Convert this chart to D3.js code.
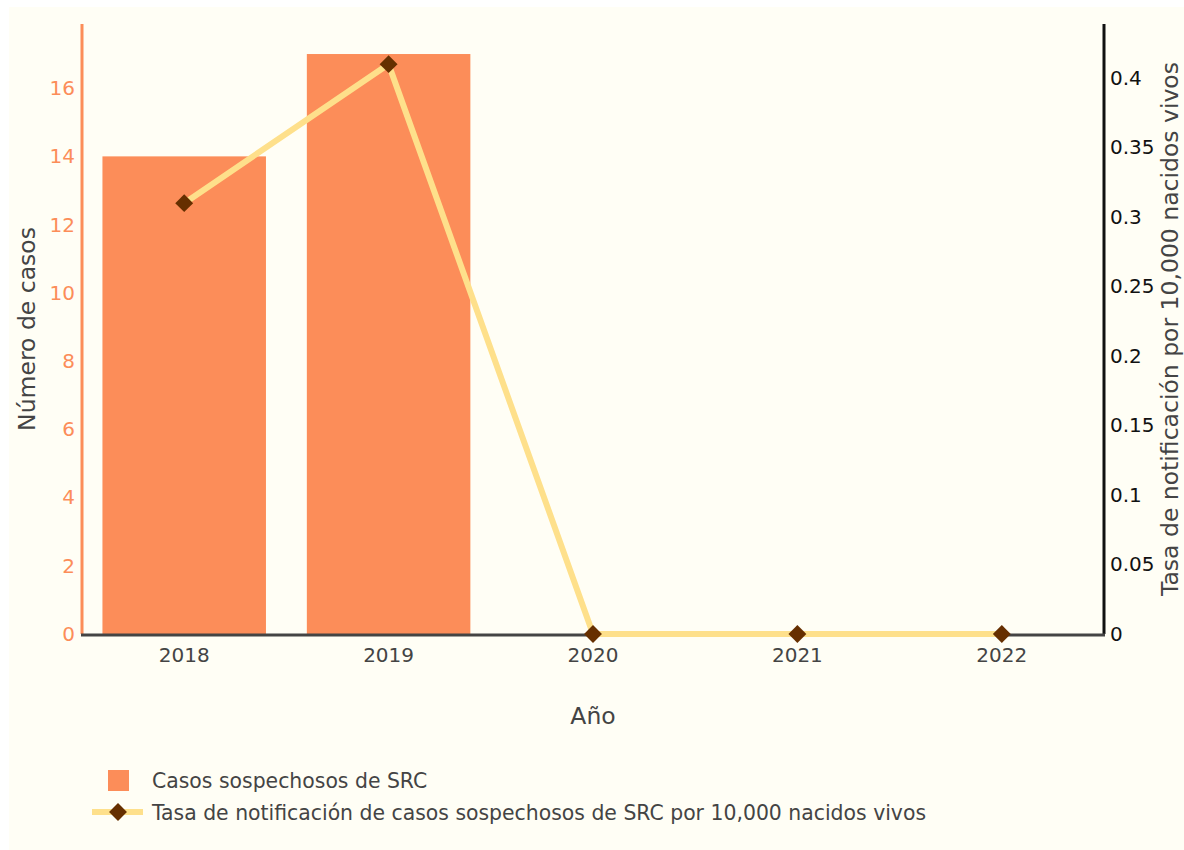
<!DOCTYPE html>
<html>
<head>
<meta charset="utf-8">
<script src="https://cdn.jsdelivr.net/npm/d3@7"></script>
<style>
  html, body { margin: 0; padding: 0; background: #ffffff; font-family: "DejaVu Sans", Verdana, sans-serif; }
  svg { display: block; }
  svg text { font-family: "DejaVu Sans", Verdana, sans-serif; }
</style>
</head>
<body>
<svg id="chart"></svg>
<script>
// Data
const years = ["2018", "2019", "2020", "2021", "2022"];
const casos = [14, 17, 0, 0, 0];
const tasa = [0.31, 0.41, 0, 0, 0];
const leftTicks = [0, 2, 4, 6, 8, 10, 12, 14, 16];
const rightTicks = [0, 0.05, 0.1, 0.15, 0.2, 0.25, 0.3, 0.35, 0.4];

const W = 1184, H = 850;
const margin = { top: 24, right: 80, bottom: 216, left: 82 };
const width = W - margin.left - margin.right;
const height = H - margin.top - margin.bottom;

const barColor = "#fc8d59";
const lineColor = "#fee08b";
const markerColor = "#662f00";
const textGrey = "#444444";
const font = "DejaVu Sans, Verdana, sans-serif";
const tickSize = "20px";
const legendSize = "20.4px";
const titleSize = "23.5px";

const svg = d3.select("#chart").attr("width", W).attr("height", H)
  .attr("font-family", font);

// Paper background
svg.append("rect")
  .attr("x", 9).attr("y", 7)
  .attr("width", W - 9).attr("height", H - 7)
  .attr("fill", "#fffef5");

const g = svg.append("g")
  .attr("transform", `translate(${margin.left},${margin.top})`);

// Scales
const x = d3.scaleBand()
  .domain(years)
  .range([0, width])
  .paddingInner(0.2)
  .paddingOuter(0.1);

const xc = (d) => x(d) + x.bandwidth() / 2;

const yLeft = d3.scaleLinear().domain([0, 17.88]).range([height, 0]);
const yRight = d3.scaleLinear().domain([0, 0.4389]).range([height, 0]);

// Bars
g.selectAll(".bar")
  .data(years)
  .enter()
  .append("rect")
  .attr("class", "bar")
  .attr("x", (d) => x(d))
  .attr("y", (d, i) => yLeft(casos[i]))
  .attr("width", x.bandwidth())
  .attr("height", (d, i) => height - yLeft(casos[i]))
  .attr("fill", barColor);

// Left axis
const leftAxis = g.append("g")
  .attr("class", "y-left")
  .call(d3.axisLeft(yLeft).tickValues(leftTicks).tickSize(0).tickPadding(7));
leftAxis.attr("font-family", font);
leftAxis.select(".domain").remove();
leftAxis.selectAll("text")
  .style("font-size", tickSize)
  .style("fill", barColor);
g.append("line")
  .attr("x1", 0).attr("x2", 0)
  .attr("y1", 0).attr("y2", height)
  .attr("stroke", barColor)
  .attr("stroke-width", 3);

// Right axis
const rightAxis = g.append("g")
  .attr("class", "y-right")
  .attr("transform", `translate(${width},0)`)
  .call(d3.axisRight(yRight).tickValues(rightTicks).tickSize(0).tickPadding(6)
    .tickFormat((d) => String(+d.toFixed(2))));
rightAxis.attr("font-family", font);
rightAxis.select(".domain").remove();
rightAxis.selectAll("text")
  .style("font-size", tickSize)
  .style("fill", "#111111");
g.append("line")
  .attr("x1", width).attr("x2", width)
  .attr("y1", 0).attr("y2", height)
  .attr("stroke", "#111111")
  .attr("stroke-width", 3);

// X axis
const xAxis = g.append("g")
  .attr("class", "x-axis")
  .attr("transform", `translate(0,${height})`)
  .call(d3.axisBottom(x).tickSize(0).tickPadding(14));
xAxis.attr("font-family", font);
xAxis.select(".domain").remove();
xAxis.selectAll("text")
  .style("font-size", tickSize)
  .style("fill", textGrey);
g.append("line")
  .attr("x1", -1).attr("x2", width + 1)
  .attr("y1", height + 1).attr("y2", height + 1)
  .attr("stroke", textGrey)
  .attr("stroke-width", 3);

// Line
const line = d3.line()
  .x((d, i) => xc(years[i]))
  .y((d) => yRight(d));

g.append("path")
  .datum(tasa)
  .attr("fill", "none")
  .attr("stroke", lineColor)
  .attr("stroke-width", 6)
  .attr("d", line);

const diamond = d3.symbol().type(d3.symbolSquare).size(160);
g.selectAll(".marker")
  .data(tasa)
  .enter()
  .append("path")
  .attr("class", "marker")
  .attr("d", diamond)
  .attr("transform", (d, i) => `translate(${xc(years[i])},${yRight(d)}) rotate(45)`)
  .attr("fill", markerColor);

// Axis titles
svg.append("text")
  .attr("transform", "translate(35,329) rotate(-90)")
  .attr("text-anchor", "middle")
  .style("font-size", titleSize)
  .style("fill", textGrey)
  .text("Número de casos");

svg.append("text")
  .attr("transform", "translate(1178,329) rotate(-90)")
  .attr("text-anchor", "middle")
  .style("font-size", titleSize)
  .style("fill", textGrey)
  .text("Tasa de notificación por 10,000 nacidos vivos");

svg.append("text")
  .attr("x", margin.left + width / 2)
  .attr("y", 724)
  .attr("text-anchor", "middle")
  .style("font-size", titleSize)
  .style("fill", textGrey)
  .text("Año");

// Legend
const legend = svg.append("g").attr("class", "legend");

legend.append("rect")
  .attr("x", 108).attr("y", 770)
  .attr("width", 21).attr("height", 21)
  .attr("fill", barColor);
legend.append("text")
  .attr("x", 152).attr("y", 788)
  .style("font-size", legendSize)
  .style("fill", textGrey)
  .text("Casos sospechosos de SRC");

legend.append("line")
  .attr("x1", 92).attr("x2", 143)
  .attr("y1", 812).attr("y2", 812)
  .attr("stroke", lineColor)
  .attr("stroke-width", 6);
legend.append("path")
  .attr("d", diamond)
  .attr("transform", "translate(118,812) rotate(45)")
  .attr("fill", markerColor);
legend.append("text")
  .attr("x", 152).attr("y", 820)
  .style("font-size", legendSize)
  .style("fill", textGrey)
  .text("Tasa de notificación de casos sospechosos de SRC por 10,000 nacidos vivos");
</script>
</body>
</html>
